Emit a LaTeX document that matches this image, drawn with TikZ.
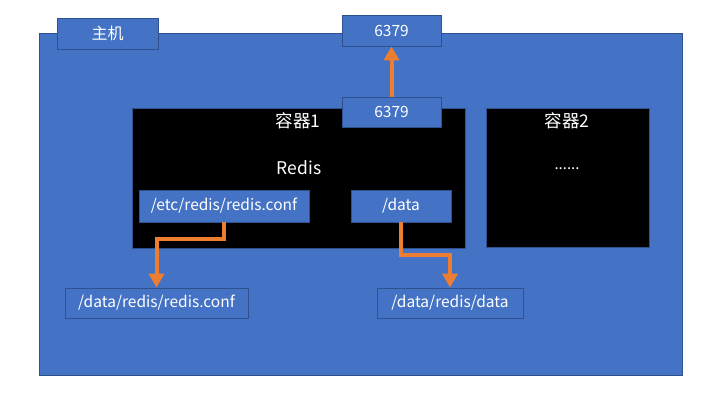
\documentclass[tikz,border=0pt]{standalone}
\usepackage{fontspec}
\setmainfont{Noto Sans CJK SC}
\usetikzlibrary{arrows.meta}
\definecolor{mblue}{HTML}{4472C4}
\definecolor{bblue}{HTML}{2F528F}
\definecolor{morange}{HTML}{ED7D31}
\tikzset{
  bluebox/.style={draw=bblue, fill=mblue, line width=0.8pt, text=white, inner sep=0pt, font=\fontsize{15.5}{18}\selectfont},
  blackbox/.style={draw=bblue, fill=black, line width=0.8pt, inner sep=0pt},
  wlabel/.style={text=white, inner sep=0pt, font=\fontsize{17.5}{20}\selectfont},
  oarrow/.style={draw=morange, line width=4pt, -{Triangle[width=15pt,length=14pt]}}
}
\begin{document}
\begin{tikzpicture}[x=1pt,y=-1pt]
\useasboundingbox (0,0) rectangle (711,400);
% host
\draw[draw=bblue, fill=mblue, line width=0.8pt] (39,33) rectangle (682,375);
\node[bluebox, minimum width=101pt, minimum height=31pt, font=\fontsize{16}{19}\selectfont] (host) at (107.5,33.5) {主机};
\node[bluebox, minimum width=99pt, minimum height=31pt] (top) at (391.5,30.5) {6379};
% containers
\node[blackbox, minimum width=333pt, minimum height=140pt] (c1) at (298.5,178) {};
\node[blackbox, minimum width=163pt, minimum height=139pt] (c2) at (567.5,177.5) {};
\node[wlabel] (c1t) at (298,121) {容器1};
\node[wlabel] (redis) at (299,168) {Redis};
\node[wlabel] (c2t) at (567,121) {容器2};
\node[text=white, inner sep=0pt, font=\fontsize{15}{18}\selectfont] (dots) at (567,169) {......};
\node[bluebox, minimum width=99pt, minimum height=30pt] (in) at (391.5,112) {6379};
\node[bluebox, minimum width=170pt, minimum height=32pt] (etc) at (224,206) {/etc/redis/redis.conf};
\node[bluebox, minimum width=100pt, minimum height=32pt] (data) at (401,206) {/data};
\node[bluebox, minimum width=183pt, minimum height=30pt] (b1) at (156.5,303) {/data/redis/redis.conf};
\node[bluebox, minimum width=146pt, minimum height=30pt] (b2) at (450,303) {/data/redis/data};
% arrows
\draw[oarrow] (in.north) -- (top.south);
\draw[oarrow] (etc.south) -- ++(0,17) -| (b1.north);
\draw[oarrow] (data.south) -- ++(0,33) -| (b2.north);
\end{tikzpicture}
\end{document}
